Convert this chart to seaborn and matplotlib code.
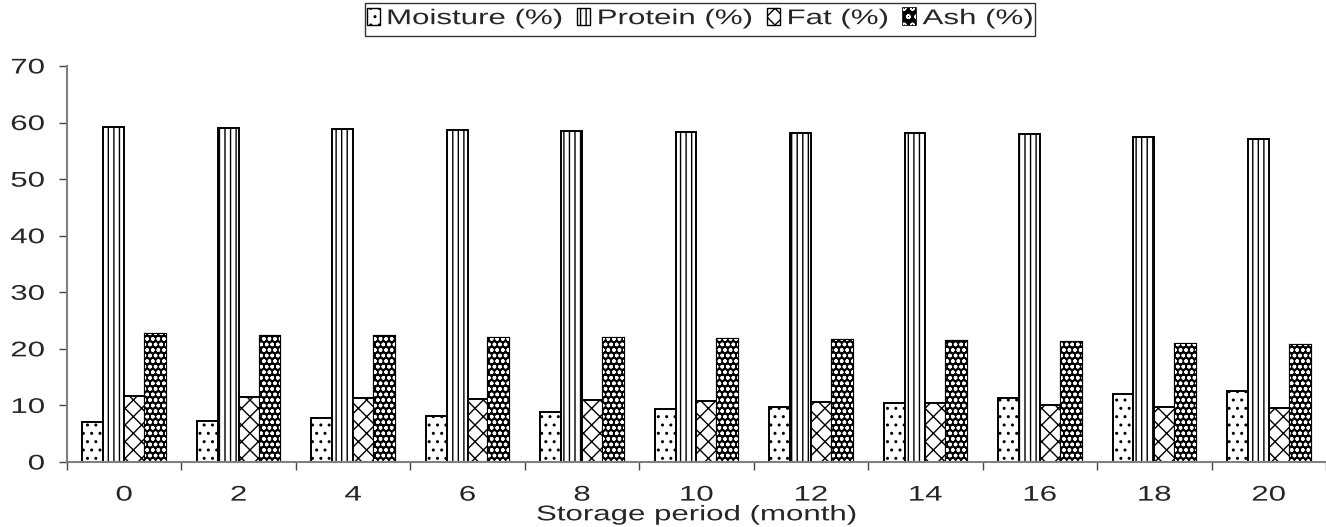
import numpy as np
import pandas as pd
import seaborn as sns
import matplotlib
matplotlib.use("Agg")
import matplotlib.pyplot as plt
from matplotlib.patches import Patch
import matplotlib.patheffects as pe
from matplotlib.transforms import Affine2D

months = ["0", "2", "4", "6", "8", "10", "12", "14", "16", "18", "20"]
series = ["Moisture (%)", "Protein (%)", "Fat (%)", "Ash (%)"]
moisture = [7.0, 7.2, 7.8, 8.1, 8.8, 9.3, 9.7, 10.4, 11.3, 12.1, 12.5]
protein = [59.2, 59.0, 58.9, 58.7, 58.5, 58.3, 58.2, 58.1, 57.9, 57.4, 57.1]
fat = [11.7, 11.5, 11.3, 11.1, 10.9, 10.8, 10.6, 10.4, 10.1, 9.7, 9.5]
ash = [22.6, 22.3, 22.2, 22.0, 21.9, 21.7, 21.6, 21.4, 21.3, 20.9, 20.7]
yticks = [0, 10, 20, 30, 40, 50, 60, 70]

df = pd.DataFrame({
    "month": months * 4,
    "series": [s for s in series for _ in months],
    "value": moisture + protein + fat + ash,
})


class Squash(pe.AbstractPathEffect):
    """Compress glyphs vertically around mid-cap height."""
    def __init__(self, sy=0.68, cy=36.0):
        super().__init__()
        self.sy = sy
        self.cy = cy

    def draw_path(self, renderer, gc, tpath, affine, rgbFace=None):
        t = Affine2D().translate(0, -self.cy).scale(1, self.sy).translate(0, self.cy) + affine
        renderer.draw_path(gc, tpath, t, rgbFace)


class Widen(pe.AbstractPathEffect):
    """Stretch glyphs horizontally around a chosen anchor (center or right)."""
    def __init__(self, sx=1.47, anchor="center"):
        super().__init__()
        self.sx = sx
        self.anchor = anchor

    def draw_path(self, renderer, gc, tpath, affine, rgbFace=None):
        ext = tpath.get_extents()
        cx = ext.x1 if self.anchor == "right" else 0.5 * (ext.x0 + ext.x1)
        t = Affine2D().translate(-cx, 0).scale(self.sx, 1).translate(cx, 0) + affine
        renderer.draw_path(gc, tpath, t, rgbFace)


sns.set_theme(style="white")
plt.rcParams["font.family"] = ["Liberation Sans", "DejaVu Sans"]
plt.rcParams["hatch.linewidth"] = 1.0

FS_LEG = 22.5
FS = 15.3
SX = 1.47

fig = plt.figure(figsize=(13.26, 5.27), dpi=100)
ax = fig.add_axes([0.0505, 0.1233, 0.9495, 0.7515])

sns.barplot(data=df, x="month", y="value", hue="series", order=months,
            hue_order=series, width=0.73, dodge=True, ax=ax, legend=False,
            palette=["white"] * 4, saturation=1, errorbar=None)

styles = {
    "Moisture (%)": dict(face="white", hatch="..", hc="black"),
    "Protein (%)": dict(face="white", hatch="|||", hc="black"),
    "Fat (%)": dict(face="white", hatch="xx", hc="black"),
    "Ash (%)": dict(face="black", hatch="ooo", hc="white"),
}

for cont, s in zip(ax.containers, series):
    st = styles[s]
    for p in cont.patches:
        p.set_facecolor(st["face"])
        p.set_hatch(st["hatch"])
        if st["hc"] == "white":
            p.set_edgecolor("white")
            p.set_linewidth(0)
            p.set_path_effects([pe.Stroke(linewidth=1.6, foreground="black"), pe.Normal()])
        else:
            p.set_edgecolor("black")
            p.set_linewidth(1.4)

ax.set_ylim(0, 70)
ax.set_xlim(-0.5, len(months) - 0.5)
ax.set_yticks(yticks)
ax.set_yticklabels([str(t) for t in yticks], fontsize=FS)
ax.set_xticks(range(len(months)))
ax.set_xticklabels(months, fontsize=FS)
ax.set_xticks(np.arange(-0.5, len(months), 1.0), minor=True)
ax.tick_params(axis="x", which="major", length=0, pad=17)
ax.tick_params(axis="x", which="minor", length=6, width=1, color="#444444", direction="out", bottom=True)
ax.tick_params(axis="y", length=6, width=1, color="#444444", direction="out", left=True, pad=10)
ax.set_xlabel("Storage period (month)", fontsize=FS, labelpad=0.5)
ax.set_ylabel("")
for lab in ax.get_xticklabels():
    lab.set_path_effects([Widen(SX, "center")])
for lab in ax.get_yticklabels():
    lab.set_path_effects([Widen(SX, "right")])
ax.xaxis.label.set_path_effects([Widen(SX, "center")])

for side in ["top", "right"]:
    ax.spines[side].set_visible(False)
for side in ["left", "bottom"]:
    ax.spines[side].set_color("#808080")
    ax.spines[side].set_linewidth(1.5)

handles = []
for s in series:
    st = styles[s]
    if st["hc"] == "white":
        h = Patch(facecolor="black", edgecolor="white", hatch="oo", linewidth=0,
                  path_effects=[pe.Stroke(linewidth=1.2, foreground="black"), pe.Normal()])
    else:
        h = Patch(facecolor="white", edgecolor="black", hatch=st["hatch"], linewidth=1)
    handles.append(h)

leg = fig.legend(handles, series, loc="upper center", bbox_to_anchor=(0.528, 0.994),
                 ncol=4, frameon=True, fontsize=FS_LEG, handlelength=0.42, handleheight=0.42,
                 handletextpad=0.2, columnspacing=0.45, borderpad=0.05, fancybox=False,
                 borderaxespad=0)
leg.get_frame().set_edgecolor("black")
leg.get_frame().set_linewidth(1.0)
for t in leg.get_texts():
    t.set_path_effects([Squash(0.68)])

fig.savefig("out.png", dpi=100)
